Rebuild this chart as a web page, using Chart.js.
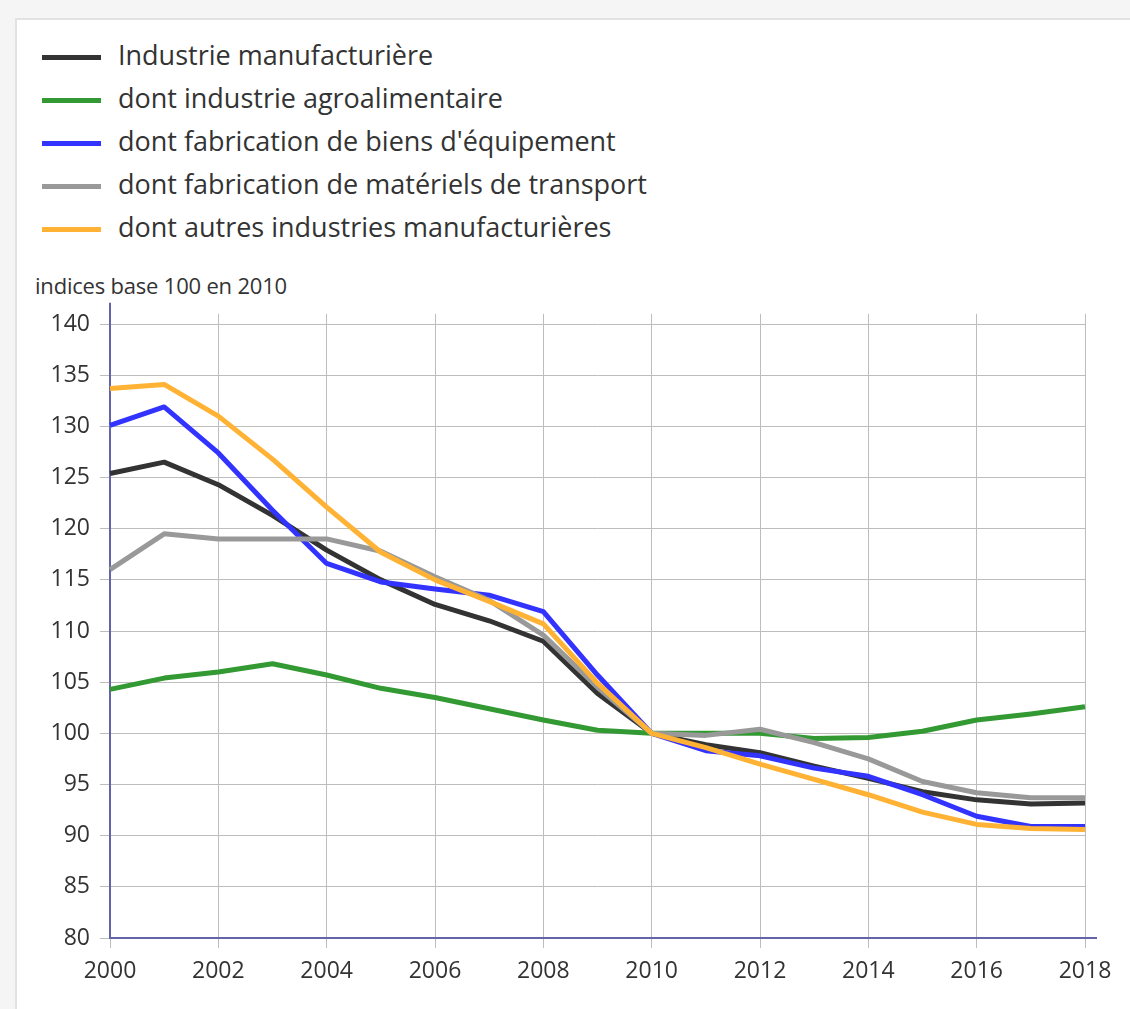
<!DOCTYPE html>
<html>
<head>
<meta charset="utf-8">
<script src="https://cdn.jsdelivr.net/npm/chart.js"></script>
<style>
  body { margin: 0; background: #f5f5f5; font-family: "Open Sans", sans-serif; color: #333; }
  .card { position: absolute; left: 15px; top: 18px; width: 1200px; height: 1100px; background: #fff; border-left: 2px solid #e2e2e2; border-top: 2px solid #e2e2e2; }
  .legend { position: absolute; left: 42px; top: 36px; }
  .legend div { height: 43px; line-height: 38px; font-size: 27px; white-space: nowrap; }
  .legend span { display: inline-block; width: 59px; height: 5px; margin-right: 17px; vertical-align: middle; }
  .unit { position: absolute; left: 35px; top: 270px; font-size: 22px; letter-spacing: -0.2px; }
  .wrap { position: absolute; left: 0; top: 290px; width: 1130px; height: 719px; }
</style>
</head>
<body>
<div class="card"></div>
<div class="legend" id="legend"></div>
<div class="unit">indices base 100 en 2010</div>
<div class="wrap"><canvas id="chart"></canvas></div>
<script>
const years = ['2000','2001','2002','2003','2004','2005','2006','2007','2008','2009','2010','2011','2012','2013','2014','2015','2016','2017','2018'];
const names = ['Industrie manufacturière', 'dont industrie agroalimentaire', "dont fabrication de biens d'équipement", 'dont fabrication de matériels de transport', 'dont autres industries manufacturières'];
const colors = ['#333333', '#339933', '#3333ff', '#999999', '#ffb233'];
const manuf  = [125.4, 126.5, 124.3, 121.3, 117.9, 115.0, 112.6, 111.0, 109.0, 103.9, 100, 98.9, 98.1, 96.8, 95.6, 94.3, 93.5, 93.1, 93.2];
const agro   = [104.3, 105.4, 106.0, 106.8, 105.7, 104.4, 103.5, 102.4, 101.3, 100.3, 100, 100.0, 100.0, 99.5, 99.6, 100.2, 101.3, 101.9, 102.6];
const equip  = [130.1, 131.9, 127.4, 121.8, 116.6, 114.8, 114.1, 113.5, 111.9, 105.7, 100, 98.3, 97.8, 96.6, 95.8, 94.0, 91.9, 90.9, 90.9];
const transp = [116.0, 119.5, 119.0, 119.0, 119.0, 117.8, 115.3, 113.0, 109.6, 104.5, 100, 99.8, 100.4, 99.1, 97.5, 95.3, 94.2, 93.7, 93.7];
const autres = [133.7, 134.1, 131.0, 126.8, 122.1, 117.7, 115.0, 112.9, 110.7, 104.9, 100, 98.6, 97.0, 95.5, 94.0, 92.3, 91.1, 90.7, 90.6];
const series = [manuf, agro, equip, transp, autres];

const legend = document.getElementById('legend');
names.forEach((n, i) => {
    const row = document.createElement('div');
    row.innerHTML = '<span style="background:' + colors[i] + '"></span>' + n;
    legend.append(row);
});

const axisColor = '#6464aa';
const axisLines = {
    id: 'axisLines',
    beforeDatasetsDraw(chart) {
        const { ctx, chartArea: a } = chart;
        ctx.save();
        ctx.strokeStyle = axisColor;
        ctx.lineWidth = 2;
        ctx.beginPath();
        ctx.moveTo(a.left, a.top - 11);
        ctx.lineTo(a.left, a.bottom);
        ctx.lineTo(a.right + 12, a.bottom);
        ctx.stroke();
        ctx.restore();
    }
};

const tickFont = { family: '"Open Sans", sans-serif', size: 23 };
new Chart(document.getElementById('chart'), {
    type: 'line',
    data: {
        labels: years,
        datasets: series.map((d, i) => ({
            label: names[i], data: d, borderColor: colors[i], backgroundColor: colors[i],
            borderWidth: 5, pointRadius: 0, tension: 0, borderJoinStyle: 'round', order: series.length - i,
        })),
    },
    options: {
        responsive: true,
        maintainAspectRatio: false,
        animation: false,
        layout: { padding: { top: 21, right: 45, left: 0, bottom: 0 } },
        plugins: { legend: { display: false }, tooltip: { enabled: false } },
        scales: {
            x: {
                offset: false,
                afterFit(scale) { scale.height = 71; },
                border: { display: false },
                grid: { color: (c) => (c.index % 2 === 0 ? '#bdbdbd' : 'rgba(0,0,0,0)'), tickLength: 10 },
                ticks: { autoSkip: false, maxRotation: 0, color: '#333', font: tickFont, padding: 10,
                    callback(v, i) { return i % 2 === 0 ? years[i] : ''; } },
            },
            y: {
                min: 80, max: 141,
                afterFit(scale) { scale.width = 110; },
                border: { display: false },
                grid: { color: '#bdbdbd', tickLength: 10 },
                ticks: { stepSize: 5, includeBounds: false, color: '#333', font: tickFont, padding: 10 },
            },
        },
    },
    plugins: [axisLines],
});
</script>
</body>
</html>
